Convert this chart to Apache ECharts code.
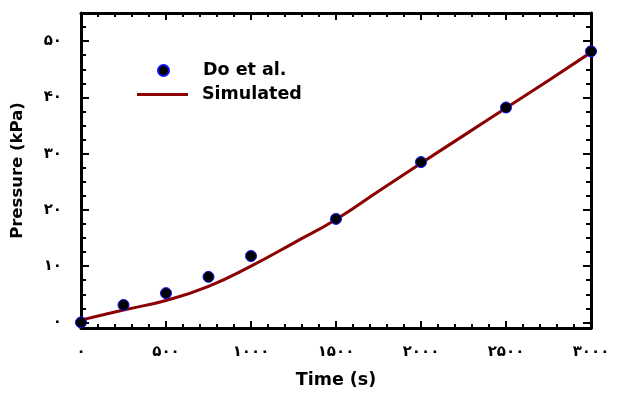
<!DOCTYPE html>
<html>
<head>
<meta charset="utf-8">
<script src="https://cdn.jsdelivr.net/npm/echarts@6/dist/echarts.min.js"></script>
<style>html,body{margin:0;padding:0;background:#fff;}#c{width:619px;height:394px;}</style>
</head>
<body>
<div id="c"></div>
<script>
// Measured data (Do et al.)
const measuredTime = [0, 250, 500, 750, 1000, 1500, 2000, 2500, 3000];
const measuredPressure = [0, 3.1, 5.2, 8.1, 11.8, 18.4, 28.5, 38.2, 48.2];
// Simulated curve
const simTime = [0, 250, 500, 750, 1000, 1250, 1500, 1750, 2000, 2250, 2500, 2750, 3000];
const simPressure = [0.4, 2.2, 3.9, 6.4, 10.0, 14.1, 18.3, 23.3, 28.3, 33.2, 38.1, 43.0, 48.0];
// Tick values and labels
const xTicks = [0, 500, 1000, 1500, 2000, 2500, 3000];
const xTickLabels = ['۰', '۵۰۰', '۱۰۰۰', '۱۵۰۰', '۲۰۰۰', '۲۵۰۰', '۳۰۰۰'];
const yTicks = [0, 10, 20, 30, 40, 50];
const yTickLabels = ['۰', '۱۰', '۲۰', '۳۰', '۴۰', '۵۰'];
const yMinorTicks = [2.5, 5, 7.5, 12.5, 15, 17.5, 22.5, 25, 27.5, 32.5, 35, 37.5, 42.5, 45, 47.5, 52.5];

const chart = echarts.init(document.getElementById('c'), null, {renderer: 'canvas'});
const axisLine = {show: true, onZero: false, lineStyle: {color: '#000', width: 3}};
const tickStyle = {color: '#000', width: 2};
const labelFont = {fontFamily: 'DejaVu Sans', fontWeight: 'bold', fontSize: 15, color: '#000'};
const XMIN = 0, XMAX = 3000, YMIN = -1, YMAX = 55;

function xAxisDef(pos, withLabels) {
  return {
    type: 'value', min: XMIN, max: XMAX, interval: 500, position: pos,
    axisLine: axisLine,
    axisTick: {show: true, inside: true, length: 7, lineStyle: tickStyle},
    minorTick: {show: true, splitNumber: 5, length: 4, lineStyle: tickStyle},
    splitLine: {show: false}, minorSplitLine: {show: false},
    axisLabel: withLabels ? Object.assign({
      show: true, margin: 17,
      formatter: v => { const i = xTicks.indexOf(v); return i >= 0 ? xTickLabels[i] : ''; }
    }, labelFont) : {show: false},
    name: withLabels ? 'Time (s)' : '',
    nameLocation: 'middle', nameGap: 43,
    nameTextStyle: {fontFamily: 'DejaVu Sans', fontWeight: 'bold', fontSize: 17.5, color: '#000'}
  };
}
function yAxisDef(pos, major, withLabels, withLine) {
  return {
    type: 'value', min: YMIN, max: YMAX, position: pos,
    axisLine: withLine ? axisLine : {show: false, onZero: false},
    axisTick: {show: true, inside: true, length: major ? 8 : 5, lineStyle: tickStyle,
               customValues: major ? yTicks : yMinorTicks},
    splitLine: {show: false},
    axisLabel: withLabels ? Object.assign({
      show: true, margin: 19, customValues: yTicks,
      formatter: v => { const i = yTicks.indexOf(v); return i >= 0 ? yTickLabels[i] : ''; }
    }, labelFont) : {show: false},
    name: withLabels ? 'Pressure (kPa)' : '',
    nameLocation: 'middle', nameGap: 55, nameRotate: 90,
    nameTextStyle: {fontFamily: 'DejaVu Sans', fontWeight: 'bold', fontSize: 16.5, color: '#000'}
  };
}

const legendFont = {fontFamily: 'DejaVu Sans', fontWeight: 'bold', fontSize: 17.5, color: '#000'};

chart.setOption({
  animation: false,
  backgroundColor: '#fff',
  grid: {left: 81, right: 28, top: 13, bottom: 66, containLabel: false},
  legend: [
    {data: [{name: 'Do et al.', icon: 'circle'}], orient: 'vertical', left: 157, top: 61.5, padding: 0,
     itemWidth: 11, itemHeight: 11, textStyle: Object.assign({padding: [0, 0, 0, 29]}, legendFont)},
    {data: [{name: 'Simulated', icon: 'rect'}], orient: 'vertical', left: 137, top: 85.5, padding: 0,
     itemWidth: 51, itemHeight: 3, textStyle: Object.assign({padding: [0, 0, 0, 9]}, legendFont)}
  ],
  xAxis: [xAxisDef('bottom', true), xAxisDef('top', false)],
  yAxis: [
    yAxisDef('left', true, true, true),
    yAxisDef('left', false, false, false),
    yAxisDef('right', true, false, true),
    yAxisDef('right', false, false, false)
  ],
  series: [
    {
      name: 'Simulated', type: 'line', xAxisIndex: 0, yAxisIndex: 0,
      data: simTime.map((t, i) => [t, simPressure[i]]),
      smooth: 0.5, symbol: 'none', z: 2,
      lineStyle: {color: '#8b0000', width: 3},
      itemStyle: {color: '#8b0000'}
    },
    {
      name: 'Do et al.', type: 'scatter', xAxisIndex: 0, yAxisIndex: 0,
      data: measuredTime.map((t, i) => [t, measuredPressure[i]]),
      symbol: 'circle', symbolSize: 11, z: 5,
      itemStyle: {color: '#000', borderColor: '#1010ff', borderWidth: 1, opacity: 1}
    }
  ]
});
</script>
</body>
</html>
